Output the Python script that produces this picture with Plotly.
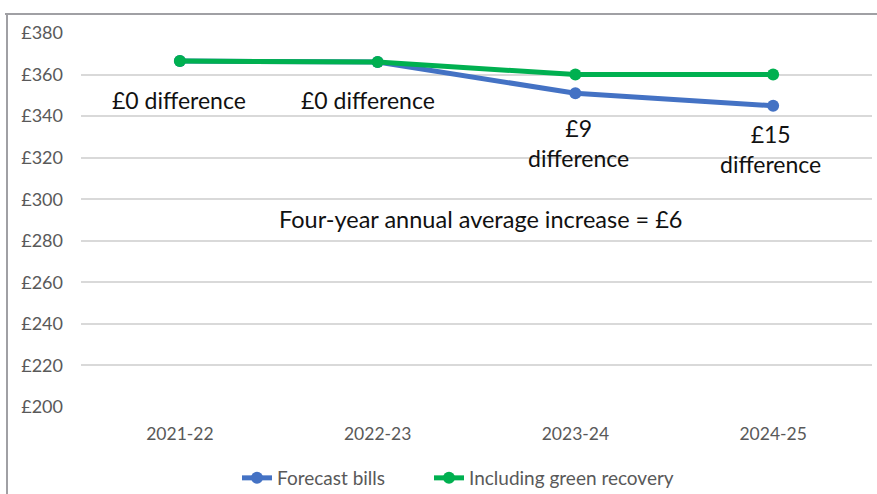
import plotly.graph_objects as go

years = ["2021-22", "2022-23", "2023-24", "2024-25"]
forecast_bills = [366.5, 366, 351, 345]
green_recovery = [366.5, 366, 360, 360]
diff_labels = ["£0 difference", "£0 difference", "£9<br>difference", "£15<br>difference"]
y_ticks = [200, 220, 240, 260, 280, 300, 320, 340, 360, 380]
note = "Four-year annual average increase = £6"

W, H = 877, 494
L, R, T, B = 81, 5, 33, 87
pw, ph = W - L - R, H - T - B

def px(x):
    return (x - L) / pw

def py(y):
    return (H - B - y) / ph

FONT = "Lato, Calibri, Carlito, sans-serif"

fig = go.Figure()
fig.add_trace(go.Scatter(x=years, y=forecast_bills, name="Forecast bills" + "\u00a0" * 8, mode="lines+markers",
                         line=dict(color="#4472c4", width=5), marker=dict(size=12, color="#4472c4")))
fig.add_trace(go.Scatter(x=years, y=green_recovery, name="Including green recovery", mode="lines+markers",
                         line=dict(color="#00b050", width=5), marker=dict(size=12, color="#00b050")))

# difference annotations
ann_pos = [(179, 100), (368, 100), (578, 143), (770, 149)]
for (xp, yp), txt in zip(ann_pos, diff_labels):
    fig.add_annotation(x=px(xp), y=py(yp), xref="paper", yref="paper", text=txt, showarrow=False,
                       font=dict(family=FONT, size=23, color="#111111"), align="center",
                       xanchor="center", yanchor="middle")
fig.add_annotation(x=px(481), y=py(219), xref="paper", yref="paper", text=note, showarrow=False,
                   font=dict(family=FONT, size=23.5, color="#111111"), xanchor="center", yanchor="middle")

# outer frame lines
fig.add_shape(type="line", xref="paper", yref="paper", x0=px(5), x1=px(880), y0=py(14), y1=py(14),
              line=dict(color="#a0a0a4", width=2))
fig.add_shape(type="line", xref="paper", yref="paper", x0=px(7), x1=px(7), y0=py(14), y1=py(500),
              line=dict(color="#a0a0a4", width=2))

fig.update_layout(
    width=W, height=H,
    margin=dict(l=L, r=R, t=T, b=B, autoexpand=False),
    paper_bgcolor="white", plot_bgcolor="white",
    font=dict(family=FONT, color="#595959", size=17),
    showlegend=True,
    legend=dict(orientation="h", x=px(237), xanchor="left", y=py(478), yanchor="middle",
                font=dict(size=19, color="#595959"), traceorder="normal"),
    xaxis=dict(showgrid=False, showline=False, ticks="", tickfont=dict(size=17.5, color="#595959"),
               range=[-0.5, 3.5], ticklabelstandoff=14, automargin=False),
    yaxis=dict(range=[200, 380], tickvals=y_ticks, ticktext=[f"£{v}" for v in y_ticks],
               showgrid=True, gridcolor="#d9d9d9", gridwidth=1.5, zeroline=False, showline=False,
               ticks="", tickfont=dict(size=18, color="#595959"), ticklabelstandoff=17, automargin=False),
)

fig.write_html("out.html", config={"displayModeBar": False},
               post_script="document.body.style.margin='0';document.body.style.overflow='hidden';")
